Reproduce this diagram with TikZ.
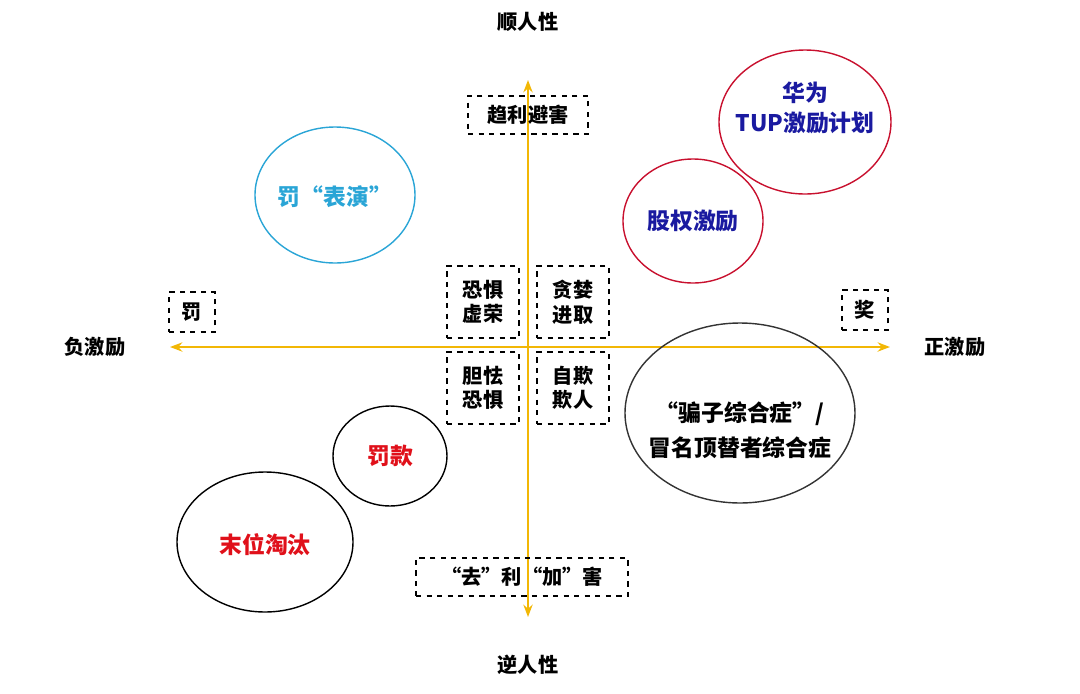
\documentclass[tikz,border=0pt]{standalone}
\usepackage{fontspec}
\newfontfamily\cjk{Noto Sans CJK SC}
\usetikzlibrary{arrows.meta}
\definecolor{axisc}{HTML}{F2B705}
\definecolor{cyanc}{HTML}{2AA5D6}
\definecolor{darkblue}{HTML}{1A1AA0}
\definecolor{redc}{HTML}{E0101A}
\definecolor{ellred}{HTML}{C8102E}
\tikzset{
 dbox/.style={draw,dashed,thick,inner sep=0pt,font=\cjk\bfseries\fontsize{11.5}{14}\selectfont,align=center},
 lab/.style={font=\cjk\bfseries\fontsize{11.5}{13}\selectfont},
 etext/.style={font=\cjk\bfseries\fontsize{13}{16}\selectfont,align=center},
}
\begin{document}
\begin{tikzpicture}[x=0.02cm,y=-0.02cm]
\useasboundingbox (0,0) rectangle (1080,694);
\coordinate (L) at (170,347); \coordinate (R) at (890,347);
\coordinate (T) at (528,80); \coordinate (B) at (528,617);
\draw[axisc,line width=1.4pt,{Stealth[length=7pt]}-{Stealth[length=7pt]}] (L) -- (R);
\draw[axisc,line width=1.4pt,{Stealth[length=7pt]}-{Stealth[length=7pt]}] (B) -- (T);
\node[lab] (top) at (528,22) {顺人性};
\node[lab] (bot) at (528,665) {逆人性};
\node[lab] (neg) at (95,347) {负激励};
\node[lab] (pos) at (955,347) {正激励};
\node[dbox,minimum width=120*0.02cm,minimum height=38*0.02cm] (b1) at (528,115) {趋利避害};
\node[dbox,minimum width=46*0.02cm,minimum height=40*0.02cm] (b2) at (192,312) {罚};
\node[dbox,minimum width=46*0.02cm,minimum height=40*0.02cm] (b3) at (865,310) {奖};
\node[dbox,minimum width=72*0.02cm,minimum height=72*0.02cm] (b4) at (483,302) {恐惧\\虚荣};
\node[dbox,minimum width=72*0.02cm,minimum height=72*0.02cm] (b5) at (573,302) {贪婪\\进取};
\node[dbox,minimum width=72*0.02cm,minimum height=72*0.02cm] (b6) at (483,388) {胆怯\\恐惧};
\node[dbox,minimum width=72*0.02cm,minimum height=72*0.02cm] (b7) at (573,388) {自欺\\欺人};
\node[dbox,minimum width=212*0.02cm,minimum height=38*0.02cm] (b8) at (522,577) {“去”利“加”害};
\draw[cyanc,thick] (335,195) ellipse [x radius=80,y radius=68];
\node[etext,text=cyanc] (e1) at (335,197) {罚“表演”};
\draw[ellred,thick] (805,122) ellipse [x radius=86,y radius=72];
\node[etext,text=darkblue,font=\cjk\bfseries\fontsize{13}{17}\selectfont] (e2) at (805,108) {华为\\TUP激励计划};
\draw[ellred,thick] (693,221) ellipse [x radius=70,y radius=62];
\node[etext,text=darkblue] (e3) at (693,221) {股权激励};
\draw[black!80,thick] (740,413) ellipse [x radius=115,y radius=90];
\node[etext,font=\cjk\bfseries\fontsize{13}{20}\selectfont] (e4) at (740,430) {“骗子综合症”/\\冒名顶替者综合症};
\draw[black,thick] (390,456) ellipse [x radius=57,y radius=50];
\node[etext,text=redc] (e5) at (390,456) {罚款};
\draw[black,thick] (265,542) ellipse [x radius=88,y radius=70];
\node[etext,text=redc] (e6) at (265,545) {末位淘汰};
\end{tikzpicture}
\end{document}
